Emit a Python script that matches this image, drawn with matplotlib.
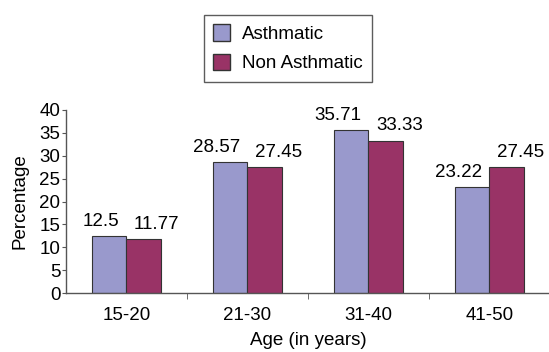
import numpy as np
import matplotlib.pyplot as plt
from matplotlib.patches import Patch

plt.rcParams['font.family'] = ['Liberation Sans', 'DejaVu Sans']

# age groups and percentages
ages = ['15-20', '21-30', '31-40', '41-50']
asthmatic = [12.5, 28.57, 35.71, 23.22]
non_asthmatic = [11.77, 27.45, 33.33, 27.45]
yticks = [0, 5, 10, 15, 20, 25, 30, 35, 40]

c1 = '#9999cc'
c2 = '#993366'
edge = '#333333'
fs = 13.5

fig = plt.figure(figsize=(5.49, 3.52), dpi=100)
ax = fig.add_axes([0.1202, 0.1676, 0.8816, 0.5199])

x = np.arange(len(ages))
w = 0.285
b1 = ax.bar(x - w/2, asthmatic, w, color=c1, edgecolor=edge, linewidth=0.8)
b2 = ax.bar(x + w/2, non_asthmatic, w, color=c2, edgecolor=edge, linewidth=0.8)

# value labels pushed apart so neighbours don't collide
for r, v in zip(b1, asthmatic):
    ax.text(r.get_x() + r.get_width()/2 + 0.08, v + 2.2, str(v), ha='right', va='baseline', fontsize=fs)
for r, v in zip(b2, non_asthmatic):
    ax.text(r.get_x() + r.get_width()/2 - 0.08, v + 2.2, str(v), ha='left', va='baseline', fontsize=fs)

ax.set_xlim(-0.5, 3.5)
ax.set_ylim(0, 40)
ax.set_yticks(yticks)
ax.set_yticklabels([str(t) for t in yticks], fontsize=fs)
ax.tick_params(axis='y', length=3, pad=1, color='#555555')

# category labels centred, tick marks between groups
ax.set_xticks(x)
ax.set_xticklabels(ages, fontsize=fs)
ax.set_xticks([0.5, 1.5, 2.5], minor=True)
ax.tick_params(axis='x', which='major', length=0, pad=10)
ax.tick_params(axis='x', which='minor', length=4, color='#555555')

for s in ['top', 'right']:
    ax.spines[s].set_visible(False)
for s in ['left', 'bottom']:
    ax.spines[s].set_color('#555555')
    ax.spines[s].set_linewidth(1.0)

ax.set_ylabel('Percentage', fontsize=fs, labelpad=8)
ax.set_xlabel('Age (in years)', fontsize=fs, labelpad=6)

handles = [Patch(facecolor=c1, edgecolor=edge, label='Asthmatic'),
           Patch(facecolor=c2, edgecolor=edge, label='Non Asthmatic')]
leg = fig.legend(handles=handles, loc='upper left', bbox_to_anchor=(204/549, 1 - 15/352),
                 fontsize=fs, frameon=True, fancybox=False, edgecolor='#333333',
                 handlelength=0.9, handleheight=1.0, handletextpad=0.6,
                 labelspacing=0.55, borderpad=0.5, borderaxespad=0)
leg.get_frame().set_linewidth(1.0)

plt.savefig('out.png', dpi=100)
